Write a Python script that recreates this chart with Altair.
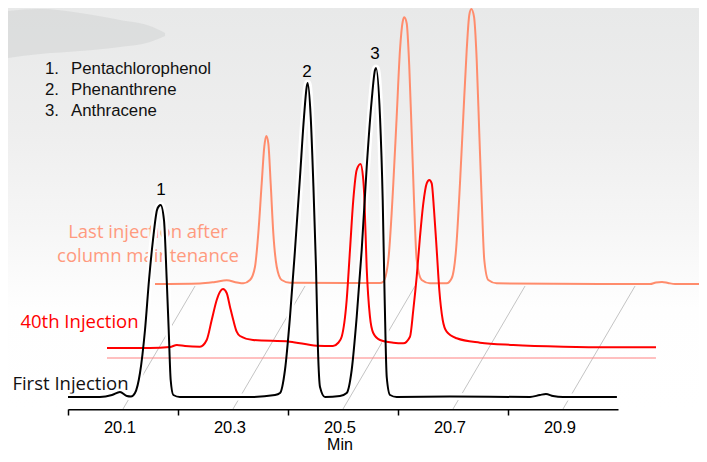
import altair as alt
import pandas as pd

# ---------------- data ----------------
# time (min, as read on the axis) and detector signal (arbitrary units above the axis line)
first_t = [20.000, 20.058, 20.080, 20.0945, 20.107, 20.1145, 20.1218, 20.1309, 20.140, 20.1473,
           20.1545, 20.1618, 20.1655, 20.1685, 20.1745, 20.1795, 20.1831, 20.1867, 20.1915, 20.2036,
           20.331, 20.3764, 20.3855, 20.3945, 20.4036, 20.4127, 20.4218, 20.4291, 20.434, 20.4358,
           20.4413, 20.446, 20.4509, 20.4545, 20.4582, 20.4673, 20.4945, 20.5067, 20.5158, 20.5249,
           20.534, 20.5431, 20.5522, 20.5582, 20.560, 20.5673, 20.5722, 20.5758, 20.5795, 20.5855,
           20.5976, 20.6945, 20.840, 20.858, 20.869, 20.8818, 20.900, 20.998]
first_v = [12, 12, 14, 17, 13, 12.5, 16, 36, 79, 129,
           169, 199, 203, 204, 189, 129, 79, 29, 14, 12,
           12, 14, 16, 39, 92, 159, 232, 292, 322, 326,
           292, 226, 142, 59, 22, 12, 13, 16, 39, 92,
           159, 242, 309, 339, 341, 292, 209, 109, 32, 14,
           12, 12.5, 12, 14, 15, 13, 12, 12]

red_t = [20.0709, 20.149, 20.1855, 20.198, 20.2127, 20.24, 20.2522, 20.2613, 20.2704, 20.2764,
         20.2818, 20.2885, 20.2945, 20.3005, 20.3067, 20.3127, 20.3364, 20.4036, 20.4522, 20.4818,
         20.4909, 20.4976, 20.5067, 20.5127, 20.5187, 20.5249, 20.5318, 20.5364, 20.539, 20.543,
         20.549, 20.555, 20.5673, 20.5915, 20.6096, 20.6218, 20.6278, 20.634, 20.64, 20.646,
         20.6522, 20.6569, 20.6613, 20.6655, 20.6704, 20.6751, 20.6813, 20.6885, 20.7067, 20.749,
         20.8096, 20.9005, 20.9915, 21.0691]
red_v = [61, 61, 62, 64, 63, 62.3, 69, 89, 109, 117.3,
         120, 116, 102.3, 89, 77.3, 73, 69, 67.3, 63.3, 63,
         66, 72.3, 109, 159, 209, 239, 245, 232, 209, 142,
         92.3, 76, 69, 66.3, 65.7, 72.3, 99, 132.3, 172.3, 205.7,
         225.7, 229, 225.7, 199, 159, 119, 89, 77.3, 70.7, 66.3,
         64, 62.3, 61.7, 61.7]

last_t = [20.1582, 20.24, 20.2673, 20.2885, 20.3073, 20.3187, 20.3309, 20.34, 20.346, 20.3522,
          20.3569, 20.3605, 20.3642, 20.3685, 20.3733, 20.3795, 20.3885, 20.4036, 20.5673, 20.5733,
          20.5824, 20.5915, 20.5976, 20.6036, 20.6085, 20.6115, 20.6158, 20.6205, 20.6249, 20.6291,
          20.634, 20.6431, 20.6582, 20.6885, 20.6976, 20.7055, 20.7127, 20.7187, 20.7249, 20.7296,
          20.7333, 20.7382, 20.7431, 20.7478, 20.7522, 20.7569, 20.7642, 20.7795, 20.9673, 21.0582,
          21.069, 21.08, 21.091, 21.1036, 21.1545]
last_v = [125, 125.5, 127, 128.7, 126.5, 125.7, 129, 142.3, 175.7, 225.7,
          262.3, 273, 265.7, 225.7, 175.7, 142.3, 129, 126.3, 126, 127.3,
          149, 225.7, 292.3, 359, 387.3, 391.7, 385.7, 342.3, 275.7, 209,
          149, 129, 125.7, 125.7, 130.7, 159, 225.7, 292.3, 359, 394,
          400, 392.3, 349, 275.7, 209, 149, 129, 125.7, 125, 125,
          126.5, 127, 126, 125, 125]

red_ref_t = [20.0709, 21.069]          # thin reference line under the 40th injection
red_ref_v = 51

tick_values = [20.0, 20.2, 20.4, 20.6, 20.8]
tick_labels = [20.1, 20.3, 20.5, 20.7, 20.9]
skew_dt = 0.131                       # perspective shift of the back trace (min)
skew_dv = 123                         # perspective lift of the back trace

legend_nums = ["1.", "2.", "3."]
legend_names = ["Pentachlorophenol", "Phenanthrene", "Anthracene"]
legend_v = [335, 314, 293]
peak_names = ["1", "2", "3"]
peak_t = [20.1691, 20.4345, 20.5582]
peak_v = [214, 332, 350]

# decorative swoosh in the background
swoosh_t = [19.8909, 19.9491, 20.0218, 20.0945, 20.1491, 20.1764]
swoosh_top = [398, 400, 396, 389, 383, 376]
swoosh_bot = [351, 355, 358, 362, 367, 373]

# ---------------- scales ----------------
xs = alt.Scale(domain=[20.0, 21.0], range=[60, 610], nice=False, zero=False)
ys = alt.Scale(domain=[0, 401], nice=False, zero=False)
xaxis = alt.Axis(values=tick_values, labels=False, title=None, grid=False,
                 domainColor="black", domainWidth=2, tickColor="black",
                 tickWidth=1.5, tickSize=6)


def X(field, **kw):
    return alt.X(field, type="quantitative", scale=xs, axis=xaxis, **kw)


def Y(field):
    return alt.Y(field, type="quantitative", scale=ys, axis=None)


first = pd.DataFrame({"t": first_t, "v": first_v})
red = pd.DataFrame({"t": red_t, "v": red_v})
last = pd.DataFrame({"t": last_t, "v": last_v})
diag = pd.DataFrame({"t0": tick_labels, "t1": [t + skew_dt for t in tick_labels],
                     "v0": [0] * len(tick_labels), "v1": [skew_dv] * len(tick_labels)})
swoosh = pd.DataFrame({"t": swoosh_t, "top": swoosh_top, "bot": swoosh_bot})
ref = pd.DataFrame({"t0": [red_ref_t[0]], "t1": [red_ref_t[1]], "v": [red_ref_v]})

grad = alt.LinearGradient(gradient="linear", x1=0, y1=0, x2=0, y2=1,
                          stops=[alt.GradientStop(offset=0, color="#e8e9e9"),
                                 alt.GradientStop(offset=0.3, color="#eeeeee"),
                                 alt.GradientStop(offset=0.55, color="#f6f6f6"),
                                 alt.GradientStop(offset=0.75, color="#fefefe"),
                                 alt.GradientStop(offset=1, color="#ffffff")])
bg = alt.Chart(pd.DataFrame({"a": [0]})).mark_rect(color=grad).encode(
    x=alt.value(0), x2=alt.value(691), y=alt.value(0), y2=alt.value(401))

sw = alt.Chart(swoosh).mark_area(color="#d2d4d4", opacity=0.55, interpolate="monotone").encode(
    x=X("t"), y=Y("top"), y2="bot")

diag_l = alt.Chart(diag).mark_rule(color="#c4c4c4", strokeWidth=1).encode(
    x=X("t0"), x2="t1", y=Y("v0"), y2="v1")

trace_lbl = pd.DataFrame({
    "t": [20.1455, 20.1455, 20.0209, 20.0045],
    "v": [171, 147, 81, 19],
    "txt": ["Last injection after", "column maintenance", "40th Injection", "First Injection"],
    "col": ["#ff9a7e", "#ff9a7e", "#ff0000", "#111111"],
})
tl = alt.Chart(trace_lbl).mark_text(font="Open Sans", fontSize=18.5, align="center",
                                    baseline="alphabetic").encode(
    x=X("t"), y=Y("v"), text="txt:N", color=alt.Color("col:N", scale=None))

halo = alt.Chart(first).mark_line(color="white", strokeWidth=7, interpolate="monotone").encode(
    x=X("t"), y=Y("v"))
ref_l = alt.Chart(ref).mark_rule(color="#ff8080", strokeWidth=1).encode(
    x=X("t0"), x2="t1", y=Y("v"))
last_l = alt.Chart(last).mark_line(color="#ff8c6c", strokeWidth=2, interpolate="monotone").encode(
    x=X("t"), y=Y("v"))
red_l = alt.Chart(red).mark_line(color="#ff0000", strokeWidth=2, interpolate="monotone").encode(
    x=X("t"), y=Y("v"))
first_l = alt.Chart(first).mark_line(color="#000000", strokeWidth=2, interpolate="monotone").encode(
    x=X("t"), y=Y("v"))

pk = alt.Chart(pd.DataFrame({"t": peak_t, "v": peak_v, "txt": peak_names})).mark_text(
    font="Liberation Sans", fontSize=17, align="center", baseline="alphabetic", color="black").encode(
    x=X("t"), y=Y("v"), text="txt:N")

leg_df = pd.DataFrame({"t": [19.9582] * 3, "t2": [20.0055] * 3, "v": legend_v,
                       "num": legend_nums, "name": legend_names})
leg1 = alt.Chart(leg_df).mark_text(font="Liberation Sans", fontSize=16.8, align="left",
                                   baseline="alphabetic", color="#111111").encode(
    x=X("t"), y=Y("v"), text="num:N")
leg2 = alt.Chart(leg_df).mark_text(font="Liberation Sans", fontSize=16.8, align="left",
                                   baseline="alphabetic", color="#111111").encode(
    x=X("t2"), y=Y("v"), text="name:N")

ax_df = pd.DataFrame({"t": tick_labels, "v": [-24] * len(tick_labels),
                      "txt": [f"{t:.1f}" for t in tick_labels]})
axl = alt.Chart(ax_df).mark_text(font="Liberation Sans", fontSize=16.5, align="center",
                                 baseline="alphabetic", color="black", dx=-3).encode(
    x=X("t"), y=Y("v"), text="txt:N")
mn = alt.Chart(pd.DataFrame({"t": [20.5], "v": [-41], "txt": ["Min"]})).mark_text(
    font="Liberation Sans", fontSize=16, align="center", baseline="alphabetic", color="black", dx=-3).encode(
    x=X("t"), y=Y("v"), text="txt:N")

chart = alt.layer(bg, sw, diag_l, tl, halo, ref_l, last_l, red_l, first_l, pk, leg1, leg2, axl, mn).properties(
    width=691, height=401,
    autosize=alt.AutoSizeParams(type="none"),
    padding={"left": 0, "right": 0, "top": 0, "bottom": 45},
).configure_view(stroke=None)

chart.save("out.html", embed_options={"renderer": "svg", "actions": False})
